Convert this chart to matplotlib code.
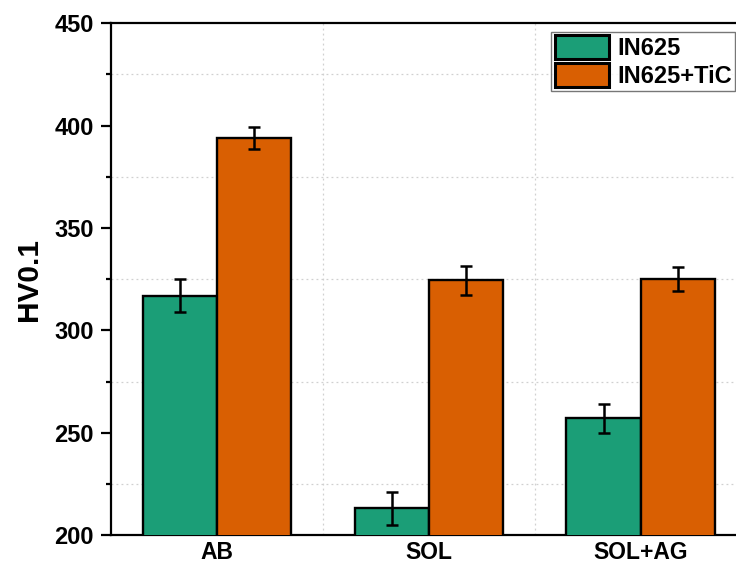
import matplotlib
matplotlib.use("Agg")
import matplotlib.pyplot as plt
import numpy as np
from matplotlib.ticker import MultipleLocator, FixedLocator

plt.rcParams['font.family'] = ['Liberation Sans', 'DejaVu Sans']
plt.rcParams['font.weight'] = 'bold'

categories = ["AB", "SOL", "SOL+AG"]
series_names = ["IN625", "IN625+TiC"]
in625 = [317, 213, 257]
in625_err = [8, 8, 7]
tic = [394, 324.5, 325]
tic_err = [5.5, 7, 6]
yticks = [200, 250, 300, 350, 400, 450]

colors = ["#1b9e77", "#d95f02"]

fig = plt.figure(figsize=(7.36, 5.68), dpi=100)
ax = fig.add_axes([0.1505, 0.058, 0.864, 0.901])

x = np.arange(len(categories))
w = 0.35
ekw = dict(elinewidth=1.8, capthick=1.8, ecolor='black')
ax.bar(x - w/2, in625, w, yerr=in625_err, color=colors[0], edgecolor='black',
       linewidth=1.7, capsize=4.3, error_kw=ekw, label=series_names[0], zorder=3)
ax.bar(x + w/2, tic, w, yerr=tic_err, color=colors[1], edgecolor='black',
       linewidth=1.7, capsize=4.3, error_kw=ekw, label=series_names[1], zorder=3)

ax.set_xlim(-0.5, 2.5)
ax.set_ylim(200, 450)
ax.set_yticks(yticks)
ax.yaxis.set_minor_locator(MultipleLocator(25))
ax.set_xticks(x)
ax.set_xticklabels(categories)
ax.xaxis.set_minor_locator(FixedLocator([0.5, 1.5]))

ax.tick_params(axis='y', which='major', direction='out', length=7.2, width=1.6,
               labelsize=17, pad=5)
ax.tick_params(axis='y', which='minor', direction='out', length=3.6, width=1.6)
ax.tick_params(axis='x', which='both', length=0, labelsize=16.5, pad=4)
for lab in ax.get_xticklabels() + ax.get_yticklabels():
    lab.set_fontweight('bold')

ax.grid(True, which='minor', axis='both', linestyle=(0, (1.5, 2.5)),
        color='#d0d0d0', linewidth=0.9, zorder=0)
ax.set_axisbelow(True)

for s in ax.spines.values():
    s.set_linewidth(1.6)

ax.set_ylabel("HV0.1", fontsize=21.5, fontweight='bold', labelpad=8)

leg = ax.legend(loc='upper left', bbox_to_anchor=(0.693, 0.983),
                prop={'weight': 'bold', 'size': 17},
                frameon=True, fancybox=False, edgecolor='#555555',
                handlelength=2.3, handleheight=1.2, handletextpad=0.35,
                labelspacing=0.13, borderpad=0.13, borderaxespad=0)
leg.get_frame().set_linewidth(1.0)
for h in leg.legend_handles:
    h.set_linewidth(2.2)

fig.savefig("out.png", dpi=100)
